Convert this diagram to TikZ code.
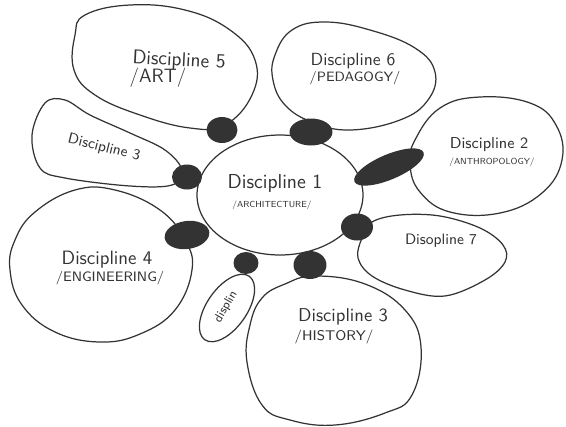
\documentclass[tikz,border=0pt]{standalone}
\usepackage{xcolor}
\usepackage{tikz}
\usetikzlibrary{shapes.geometric}
\definecolor{inkgrey}{rgb}{0.2, 0.2, 0.2}

\tikzset{
  blob/.style={draw=inkgrey, line width=0.7pt, fill=white},
  knot/.style={ellipse, fill=inkgrey, draw=none, inner sep=0pt},
  dtext/.style={font=\sffamily\fontsize{#1}{#1}\selectfont, text=inkgrey, inner sep=0pt},
  dsub/.style={font=\sffamily\fontsize{#1}{#1}\selectfont, text=inkgrey, inner sep=0pt}
}

\begin{document}
\begin{tikzpicture}[x=0.02cm, y=-0.02cm]
\useasboundingbox[fill=white] (0,0) rectangle (566,427);

\draw[blob] plot[smooth cycle, tension=0.7] coordinates {(85,15) (130,5) (185,10) (230,30) (255,60) (252,95) (225,125) (190,128) (140,115) (95,95) (74,70) (75,35)};
\draw[blob] plot[smooth cycle, tension=0.6] coordinates {(45,103) (65,100) (90,115) (130,133) (165,150) (182,170) (172,185) (130,186) (65,178) (40,168) (32,135)};
\draw[blob] plot[smooth cycle, tension=0.7] coordinates {(275,55) (292,30) (325,22) (370,30) (415,48) (435,72) (428,100) (400,120) (350,130) (312,122) (285,105) (273,80)};
\draw[blob] plot[smooth cycle, tension=0.7] coordinates {(415,140) (440,108) (480,97) (530,103) (556,125) (562,160) (542,193) (500,213) (450,212) (420,192) (410,165)};
\draw[blob] plot[smooth cycle, tension=0.6] coordinates {(372,222) (400,215) (440,216) (480,228) (503,245) (505,262) (485,280) (445,296) (405,290) (372,276) (358,258) (362,238)};
\draw[blob] plot[smooth cycle, tension=0.7] coordinates {(262,298) (285,284) (315,276) (365,284) (405,310) (421,347) (412,395) (385,413) (335,425) (290,420) (262,405) (247,362) (250,325)};
\draw[blob] plot[smooth cycle, tension=0.7] coordinates {(35,212) (75,190) (115,190) (160,210) (185,240) (192,270) (175,310) (140,334) (100,342) (55,332) (22,305) (10,270) (15,240)};

\node (d1) at (280,195) [ellipse, blob, minimum width=3.32cm, minimum height=2.4cm]{};
\node (d8) at (227,308) [ellipse, blob, rotate=55, minimum width=1.55cm, minimum height=0.8cm]{};

\node (k5) at (222,130) [knot, minimum width=0.62cm, minimum height=0.52cm]{};
\node (k3) at (187,177) [knot, minimum width=0.6cm, minimum height=0.5cm]{};
\node (k6) at (311,132) [knot, minimum width=0.86cm, minimum height=0.54cm]{};
\node (k2) at (389,167) [knot, rotate=23, minimum width=1.5cm, minimum height=0.5cm]{};
\node (k7) at (357,227) [knot, minimum width=0.64cm, minimum height=0.54cm]{};
\node (kh) at (310,265) [knot, minimum width=0.66cm, minimum height=0.56cm]{};
\node (k4) at (187,235) [knot, rotate=8, minimum width=0.9cm, minimum height=0.56cm]{};
\node (k8) at (246,263) [knot, minimum width=0.5cm, minimum height=0.44cm]{};

\node (t1) at (275,183) [dtext=11.5]{Discipline 1};
\node (s1) at (272,205) [dsub=5]{/ARCHITECTURE/};
\node (t5) at (179,61) [dtext=11.3, rotate=-3]{Discipline 5};
\node (s5) at (158,78) [dsub=11]{/ART/};
\node (t3) at (104,148) [dtext=8.5, rotate=-14]{Discipline 3};
\node (t6) at (353,61) [dtext=10]{Discipline 6};
\node (s6) at (355,78) [dsub=7.7]{/PEDAGOGY/};
\node (t2) at (489,145) [dtext=9]{Discipline 2};
\node (s2) at (492,162) [dsub=5]{/ANTHROPOLOGY/};
\node (t7) at (441,241) [dtext=8.6]{Disopline 7};
\node (t4) at (107,260) [dtext=11]{Discipline 4};
\node (s4) at (110,278) [dsub=7.8]{/ENGINEERING/};
\node (th) at (343,317) [dtext=10.6]{Discipline 3};
\node (sh) at (334,337) [dsub=8]{/HISTORY/};
\node (t8) at (226,307) [dtext=7, rotate=60]{displin};

\end{tikzpicture}
\end{document}
